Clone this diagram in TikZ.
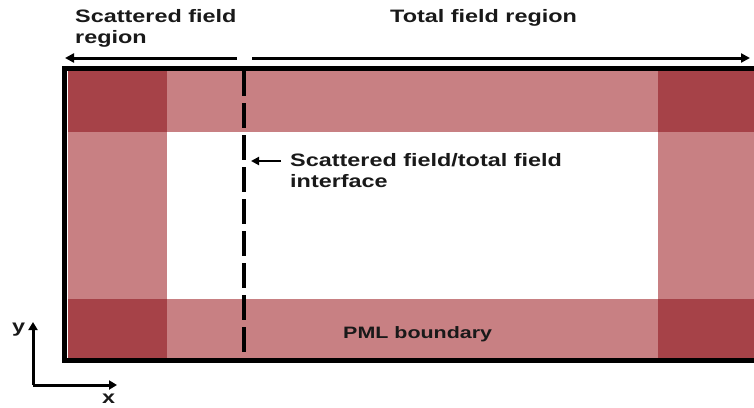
\documentclass[tikz,border=0pt]{standalone}
\usepackage{fontspec}
\setmainfont{Liberation Sans}[FakeStretch=1.3]
\usetikzlibrary{arrows.meta}
\definecolor{darkpml}{RGB}{166,66,72}
\definecolor{lightpml}{RGB}{200,128,131}
\tikzset{
  lbl/.style={anchor=base west, inner sep=0pt, font=\fontsize{18}{21}\selectfont\bfseries, text=black!90},
  arr/.style={line width=3pt, -{Triangle[length=9pt,width=9pt]}},
}
\begin{document}
\begin{tikzpicture}[x=1pt,y=-1pt]
\useasboundingbox (0,0) rectangle (754,407);
% fills
\fill[lightpml] (68,71) rectangle (754,358);
\fill[white] (167,132) rectangle (658,299);
\fill[darkpml] (68,71) rectangle (167,132);
\fill[darkpml] (68,299) rectangle (167,358);
\fill[darkpml] (658,71) rectangle (754,132);
\fill[darkpml] (658,299) rectangle (754,358);
% border
\draw[line width=5pt] (760,68.5) -- (64,68.5) -- (64,360.5) -- (760,360.5);
% interface dashed line
\coordinate (dtop) at (244,71);
\coordinate (dbot) at (244,358);
\draw[line width=3.5pt, dash pattern=on 25pt off 7pt] (dtop) -- (dbot);
% region arrows
\coordinate (la) at (237,58);
\coordinate (lb) at (65,58);
\coordinate (ra) at (252,58);
\coordinate (rb) at (750,58);
\draw[arr] (la) -- (lb);
\draw[arr] (ra) -- (rb);
% labels
\node[lbl] (sf1) at (75,22.7) {Scattered field};
\node[lbl] (sf2) at (75,43.5) {region};
\node[lbl] (tf) at (390,22.7) {Total field region};
\node[lbl] (if1) at (290,166.7) {Scattered field/total field};
\node[lbl] (if2) at (290,187) {interface};
\node[lbl, font=\fontsize{16.5}{20}\selectfont\bfseries] (pml) at (343,338) {PML boundary};
\coordinate (ia) at (281,161);
\coordinate (ib) at (251,161);
\draw[line width=2.5pt, -{Triangle[length=8pt,width=8pt]}] (ia) -- (ib);
% axes
\coordinate (o) at (33,385);
\coordinate (yt) at (33,322);
\coordinate (xt) at (117,385);
\draw[line width=3pt, -{Triangle[length=8pt,width=9pt]}] (o) -- (yt);
\draw[line width=3pt, -{Triangle[length=8pt,width=9pt]}] (o.center) -- (xt);
\node[lbl] (ylab) at (12,332) {y};
\node[lbl] (xlab) at (102,403) {x};
\end{tikzpicture}
\end{document}
